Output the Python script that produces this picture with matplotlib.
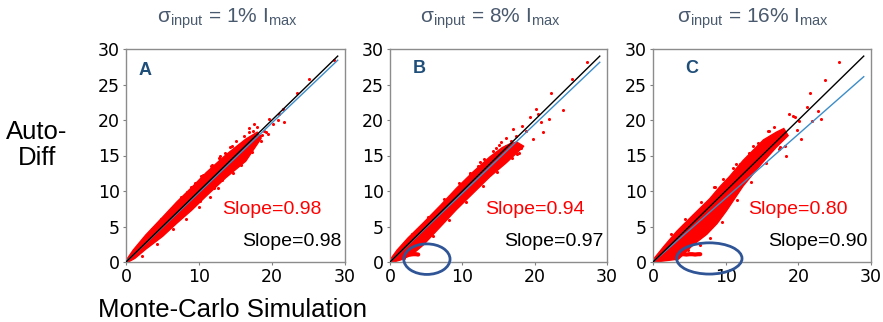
import matplotlib
matplotlib.use("Agg")
import matplotlib.pyplot as plt
from matplotlib.patches import Ellipse

plt.rcParams['font.family'] = ['Liberation Sans', 'DejaVu Sans']
plt.rcParams['mathtext.fontset'] = 'custom'
plt.rcParams['mathtext.rm'] = 'Liberation Sans'
plt.rcParams['mathtext.it'] = 'Liberation Sans:italic'

# ---------------- data ----------------
sigma_pct = [1, 8, 16]
panel_labels = ['A', 'B', 'C']
slope_red = [0.98, 0.94, 0.80]
slope_black = [0.98, 0.97, 0.90]
ticks_x = [0, 10, 20, 30]
ticks_y = [0, 5, 10, 15, 20, 25, 30]

# dense cloud outline (upper edge left->right, lower edge right->left)
A_up_x = [0, 1, 2.7, 5, 7, 9, 11, 13.7, 16.4, 18.0]
A_up_y = [0.2, 1.7, 3.8, 6.3, 8.5, 10.5, 12.6, 15.1, 17.3, 18.3]
A_lo_x = [18.5, 16.4, 13.7, 11, 9, 7, 5, 2.7, 1.2, 0.3]
A_lo_y = [17.4, 14.2, 11.9, 9.3, 7.3, 5.5, 3.6, 1.8, 0.5, 0]

B_up_x = [0, 1, 2.5, 4.6, 7, 9.2, 11.5, 13.8, 15.5, 16.5, 17.5]
B_up_y = [0.3, 1.7, 3.4, 5.5, 8.0, 10.4, 12.7, 14.8, 16.1, 16.6, 16.9]
B_lo_x = [18.5, 16.1, 13.8, 11.5, 9.2, 7, 4.6, 3.0, 1.5, 0.5]
B_lo_y = [16.3, 14.0, 12.0, 9.7, 7.4, 5.0, 2.4, 1.0, 0.3, 0]

C_up_x = [0, 1.5, 3.25, 5.5, 7.8, 9.2, 10.5, 12.4, 15.2, 17.0, 18.0]
C_up_y = [0.3, 2.2, 4.3, 6.6, 8.9, 10.6, 12.0, 14.3, 17.2, 18.3, 18.8]
C_lo_x = [18.6, 17.0, 14.9, 12.4, 10.1, 8.8, 7.4, 5.5, 3.5, 1.5, 0.3]
C_lo_y = [17.8, 16.2, 13.8, 10.7, 7.2, 5.4, 3.9, 2.4, 0.4, 0.15, 0]

# low-y streak (tail)
B_tail_x = [1.6, 2.0, 2.4, 2.8, 3.2, 3.6, 3.9]
B_tail_y = [1.15, 1.1, 1.1, 1.05, 1.1, 1.1, 1.05]
C_tail_x = [3.4, 3.8, 4.2, 4.6, 5.0, 5.4, 5.8, 6.2, 6.5]
C_tail_y = [1.15, 1.1, 1.1, 1.05, 1.1, 1.1, 1.05, 1.1, 1.1]

# sparse individual points (outliers and cloud fringe)
A_pts_x = [28.5, 25.0, 23.4, 21.5, 21.0, 21.7, 19.6, 20.1, 20.8, 18.9, 18.3, 17.4, 16.9, 18.0,
           18.5, 17.4, 15.8, 15.1, 16.2, 14.5, 13.6, 12.8, 11.7, 10.6, 9.5, 8.3, 13.2, 12.0, 10.2, 19.4,
           3.5, 4.8, 6.1, 7.6, 8.9, 10.3, 11.8, 12.9, 14.2, 15.1, 16.8, 17.6, 6.5, 8.2, 10.0, 11.5,
           12.6, 14.6, 15.7, 17.2, 18.6, 19.2, 2.2, 4.2]
A_pts_y = [28.4, 25.8, 23.8, 21.5, 20.8, 19.7, 20.1, 19.4, 20.0, 18.5, 17.8, 18.5, 18.3, 19.0,
           17.1, 16.6, 15.9, 15.9, 17.7, 16.4, 15.4, 14.6, 13.5, 12.3, 11.1, 9.9, 11.6, 10.4, 8.6, 18.0,
           4.7, 6.1, 7.5, 9.2, 10.6, 12.1, 13.7, 14.9, 16.2, 17.0, 18.9, 19.4, 4.6, 6.1, 7.8, 9.2,
           10.4, 12.6, 13.6, 15.5, 17.9, 18.3, 0.9, 2.6]
B_pts_x = [27.3, 25.1, 22.3, 23.9, 20.2, 20.4, 22.0, 20.9, 21.1, 19.3, 18.3, 18.8, 17.0, 17.4,
           16.7, 16.1, 15.3, 14.6, 19.8, 18.1, 17.6, 13.0, 12.2, 11.0,
           3.0, 5.2, 7.4, 9.6, 11.0, 12.5, 14.2, 15.0, 16.0, 10.5, 12.8, 14.8, 16.9, 17.8, 6.0, 8.2, 2.0]
B_pts_y = [28.2, 25.8, 23.8, 21.4, 21.5, 20.8, 20.1, 19.7, 18.3, 20.4, 19.2, 18.5, 18.7, 17.8,
           17.1, 16.4, 16.9, 16.1, 17.3, 16.0, 15.2, 14.5, 13.5, 12.4,
           4.0, 6.3, 8.9, 11.1, 12.6, 14.1, 15.7, 16.5, 17.4, 8.5, 10.7, 12.7, 14.6, 15.3, 3.6, 5.9, 0.6]
C_pts_x = [25.6, 23.7, 21.6, 21.2, 22.7, 23.1, 21.9, 20.1, 20.3, 19.2, 18.7, 19.6, 18.3, 18.1,
           17.4, 16.6, 15.8, 14.4, 13.2, 12.0, 19.8, 17.9, 8.4, 11.0,
           2.5, 4.4, 6.6, 8.5, 9.6, 11.4, 13.7, 16.0, 9.5, 11.5, 13.5, 15.5, 17.5, 6.5, 4.8, 7.9]
C_pts_y = [28.1, 25.7, 23.8, 21.8, 21.3, 20.1, 19.9, 19.9, 17.3, 20.6, 20.8, 20.4, 15.0, 16.4,
           15.9, 19.0, 18.4, 16.7, 15.3, 13.8, 18.6, 17.5, 10.6, 13.2,
           3.9, 6.0, 8.4, 10.5, 11.7, 13.8, 16.4, 18.4, 5.6, 8.8, 11.3, 13.9, 16.2, 2.4, 1.7, 3.4]

clouds = [
    (A_up_x, A_up_y, A_lo_x, A_lo_y, [], [], A_pts_x, A_pts_y),
    (B_up_x, B_up_y, B_lo_x, B_lo_y, B_tail_x, B_tail_y, B_pts_x, B_pts_y),
    (C_up_x, C_up_y, C_lo_x, C_lo_y, C_tail_x, C_tail_y, C_pts_x, C_pts_y),
]

# highlighted region (center x, center y, width, height) in data units
ellipses = [None, (5.1, 0.4, 6.4, 4.3), (7.75, 0.5, 9.0, 4.4)]

label_pos = [(2.6, 27.0), (4.05, 27.2), (5.4, 27.2)]

# ---------------- layout ----------------
W, H = 883, 322
fig = plt.figure(figsize=(W / 100, H / 100), dpi=100)
axes_px = [(126, 219), (390, 217), (653, 218)]
title_cx = [227, 490, 753]
top_px, bot_px = 49, 262

red = '#FF0000'
blue = '#3C8DC8'
title_col = '#4A5A6E'
lab_col = '#1F4E79'
ell_col = '#2F5597'

for i in range(3):
    l, w = axes_px[i]
    ax = fig.add_axes([l / W, (H - bot_px) / H, w / W, (bot_px - top_px) / H])
    ax.set_xlim(0, 30)
    ax.set_ylim(0, 30)
    ax.set_xticks(ticks_x)
    ax.set_yticks(ticks_y)
    ax.tick_params(labelsize=12.5, length=2.5, width=0.8, color='#808080', pad=2)
    for lab in ax.get_xticklabels() + ax.get_yticklabels():
        lab.set_fontfamily('DejaVu Sans')
    for s in ax.spines.values():
        s.set_color('#8c8c8c')
        s.set_linewidth(1.0)

    ux, uy, lx, ly, tx, ty, px, py = clouds[i]
    ax.fill(list(ux) + list(lx), list(uy) + list(ly), color=red, lw=1.0, zorder=2)
    if tx:
        ax.plot(tx, ty, color=red, lw=3, solid_capstyle='round', zorder=2)
    ax.scatter(px, py, s=5, color=red, lw=0, zorder=2)

    ax.plot([0, 29], [0, 29 * slope_black[i]], color=blue, lw=1.0, zorder=3)
    ax.plot([0, 29], [0, 29], color='black', lw=1.0, zorder=4)

    ax.text(label_pos[i][0], label_pos[i][1], panel_labels[i], color=lab_col,
            fontsize=13, fontweight='bold', ha='center', va='center')
    ax.text(20.0, 7.4, f'Slope={slope_red[i]:.2f}', color=red, fontsize=14,
            ha='center', va='center')
    ax.text(29.5, 2.85, f'Slope={slope_black[i]:.2f}', color='black', fontsize=14,
            ha='right', va='center')

    if ellipses[i] is not None:
        cx, cy, ew, eh = ellipses[i]
        ax.add_patch(Ellipse((cx, cy), ew, eh, fill=False, edgecolor=ell_col,
                             lw=2.0, clip_on=False, zorder=5))

    fig.text(title_cx[i] / W, 1 - 19 / H,
             r'σ$_{\mathrm{input}}$ = ' + f'{sigma_pct[i]}' + r'% I$_{\mathrm{max}}$',
             color=title_col, fontsize=15, ha='center', va='center')

fig.text(233 / W, 1 - 310 / H, 'Monte-Carlo Simulation', fontsize=18.5,
         ha='center', va='center', color='black')
fig.text(37 / W, 1 - 145 / H, 'Auto-\nDiff', fontsize=18.5, ha='center',
         va='center', color='black', linespacing=1.15)

fig.savefig('out.png', dpi=100)
